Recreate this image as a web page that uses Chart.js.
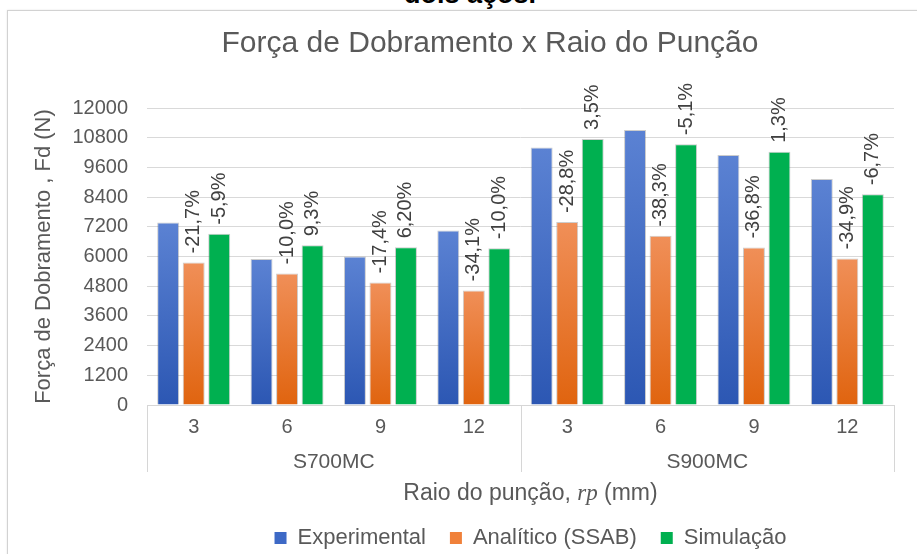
<!DOCTYPE html>
<html lang="pt">
<head>
<meta charset="utf-8">
<title>Força de Dobramento x Raio do Punção</title>
<script src="https://cdn.jsdelivr.net/npm/chart.js@4.4.1/dist/chart.umd.min.js"></script>
<style>
  html, body { margin: 0; padding: 0; background: #fff; width: 917px; height: 554px; overflow: hidden; }
  #caption { position: absolute; left: 0; top: -21px; width: 940px; text-align: center;
             font: bold 27px "Liberation Sans", Arial, sans-serif; color: #000; white-space: nowrap; }
  #frame { position: absolute; left: 7px; top: 10px; width: 2000px; height: 2000px;
           border-left: 1px solid #d2d2d2; border-top: 1px solid #d2d2d2; box-shadow: 0 0 2px rgba(0,0,0,0.10); }
  #wrap { position: absolute; left: 0; top: 0; width: 917px; height: 560px; }
</style>
</head>
<body>
<div id="caption">dois aços.</div>
<div id="frame"></div>
<div id="wrap"><canvas id="chart" width="917" height="560"></canvas></div>
<script>
// Punch radius (mm) for each steel grade
const steels = ["S700MC", "S900MC"];
const radii = ["3", "6", "9", "12"];
const seriesNames = ["Experimental", "Analítico (SSAB)", "Simulação"];

// Bending force Fd (N)
const experimental = [7370, 5900, 6000, 7050, 10400, 11110, 10100, 9130];
const analitico    = [5760, 5310, 4950, 4630, 7390, 6840, 6360, 5920];
const simulacao    = [6920, 6450, 6370, 6330, 10750, 10540, 10230, 8515];

// Deviation from the experimental force
const analiticoPct = ["-21,7%", "-10,0%", "-17,4%", "-34,1%", "-28,8%", "-38,3%", "-36,8%", "-34,9%"];
const simulacaoPct = ["-5,9%", "9,3%", "6,20%", "-10,0%", "3,5%", "-5,1%", "1,3%", "-6,7%"];

// Force axis ticks
const forceTicks = [0, 1200, 2400, 3600, 4800, 6000, 7200, 8400, 9600, 10800, 12000];

const FONT = "'Liberation Sans', Arial, sans-serif";
const GREY = "#595959";
const legendColors = ["#3D69C6", "#F0813A", "#00B050"];

// vertical shading from the top of each bar down to the baseline
function barGradient(topColor, bottomColor) {
  return (ctx) => {
    const chart = ctx.chart;
    const ys = chart.scales && chart.scales.y;
    if (!chart.chartArea || !ys || ctx.raw == null) return bottomColor;
    const y0 = ys.getPixelForValue(ctx.raw);
    const y1 = ys.getPixelForValue(0);
    if (!isFinite(y0) || !isFinite(y1) || y0 === y1) return bottomColor;
    const g = chart.ctx.createLinearGradient(0, y0, 0, y1);
    g.addColorStop(0, topColor);
    g.addColorStop(1, bottomColor);
    return g;
  };
}

const categories = steels.flatMap(() => radii);

// grade separators, grade names, axis title with math symbol, and percentage labels
const annotate = {
  id: "annotate",
  afterLayout(chart) {
    const t = chart.titleBlock;
    if (t) { t.left = 7; t.right = 973; }
    const l = chart.legend;
    if (l) { const c = (chart.chartArea.left + chart.chartArea.right) / 2 + 10; const hw = 450; l.left = c - hw; l.right = c + hw; }
  },
  afterDraw(chart) {
    const { ctx } = chart;
    const x = chart.scales.x;
    const per = radii.length;
    ctx.save();

    // separators below the category axis
    ctx.strokeStyle = "#D6D6D6";
    ctx.lineWidth = 1;
    const bounds = [x.left];
    for (let g = 1; g < steels.length; g++) {
      bounds.push((x.getPixelForTick(g * per - 1) + x.getPixelForTick(g * per)) / 2);
    }
    bounds.push(x.right);
    bounds.forEach((px) => {
      const xx = Math.round(px) + 0.5;
      ctx.beginPath();
      ctx.moveTo(xx, x.top);
      ctx.lineTo(xx, x.top + 67);
      ctx.stroke();
    });

    // steel grade names
    ctx.fillStyle = GREY;
    ctx.font = "21px " + FONT;
    ctx.textAlign = "center";
    ctx.textBaseline = "middle";
    steels.forEach((s, g) => {
      const cx = (x.getPixelForTick(g * per) + x.getPixelForTick(g * per + per - 1)) / 2;
      ctx.fillText(s, cx, x.top + 57);
    });

    // axis title: "Raio do punção, rp (mm)" with rp as a math symbol
    const parts = [
      { t: "Raio do punção, ", f: "23px " + FONT },
      { t: "rp", f: "italic 23px 'Liberation Serif', 'DejaVu Serif', serif" },
      { t: " (mm)", f: "23px " + FONT }
    ];
    let total = 0;
    parts.forEach((p) => { ctx.font = p.f; p.w = ctx.measureText(p.t).width; total += p.w; });
    let px = (x.left + x.right) / 2 + 10 - total / 2;
    ctx.textAlign = "left";
    ctx.textBaseline = "alphabetic";
    parts.forEach((p) => { ctx.font = p.f; ctx.fillText(p.t, px, x.top + 95); px += p.w; });

    // percentage labels above the analytic and simulated bars
    ctx.fillStyle = "#404040";
    ctx.font = "20px " + FONT;
    [[1, analiticoPct], [2, simulacaoPct]].forEach(([di, texts]) => {
      chart.getDatasetMeta(di).data.forEach((bar, i) => {
        ctx.save();
        ctx.translate(bar.x, bar.y - 9);
        ctx.rotate(-Math.PI / 2);
        ctx.textAlign = "left";
        ctx.textBaseline = "middle";
        ctx.fillText(texts[i], 0, 0);
        ctx.restore();
      });
    });
    ctx.restore();
  }
};

Chart.defaults.font.family = FONT;
Chart.defaults.color = GREY;

new Chart(document.getElementById("chart"), {
  type: "bar",
  data: {
    labels: categories,
    datasets: [
      { label: seriesNames[0], data: experimental, backgroundColor: barGradient("#5B82D3", "#2C57B3"),
        borderColor: "rgba(110,110,110,0.35)", borderWidth: 1 },
      { label: seriesNames[1], data: analitico, backgroundColor: barGradient("#F08F58", "#E0640F"),
        borderColor: "rgba(110,110,110,0.35)", borderWidth: 1 },
      { label: seriesNames[2], data: simulacao, backgroundColor: "#00B050",
        borderColor: "rgba(110,110,110,0.35)", borderWidth: 1 }
    ]
  },
  options: {
    responsive: false,
    animation: false,
    devicePixelRatio: 1,
    categoryPercentage: 0.82,
    barPercentage: 0.86,
    layout: { padding: { left: 0, right: 23, top: 0, bottom: 1 } },
    plugins: {
      title: {
        display: true,
        text: "Força de Dobramento x Raio do Punção",
        color: GREY,
        font: { size: 30, weight: "normal" },
        padding: { top: 26, bottom: 46 }
      },
      legend: {
        display: true,
        position: "bottom",
        labels: {
          color: GREY,
          font: { size: 22 },
          boxWidth: 12,
          boxHeight: 12,
          padding: 24,
          generateLabels(chart) {
            const items = Chart.defaults.plugins.legend.labels.generateLabels(chart);
            items.forEach((it, i) => { it.fillStyle = legendColors[i]; it.strokeStyle = legendColors[i]; it.lineWidth = 0; });
            return items;
          }
        }
      },
      tooltip: { enabled: false }
    },
    scales: {
      x: {
        grid: { display: false, drawTicks: false },
        border: { display: true, color: "#D6D6D6" },
        ticks: { color: GREY, font: { size: 20 }, padding: 10, maxRotation: 0, autoSkip: false },
        afterFit(scale) { scale.height = 98; }
      },
      y: {
        min: 0,
        max: 12000,
        grid: { color: "#D9D9D9", lineWidth: 1, drawTicks: false },
        border: { display: false },
        ticks: { color: GREY, font: { size: 20 }, padding: 19, callback: (v) => String(v) },
        afterBuildTicks(scale) { scale.ticks = forceTicks.map((v) => ({ value: v })); },
        title: {
          display: true,
          text: "Força de Dobramento , Fd (N)",
          color: GREY,
          font: { size: 22 },
          padding: { top: 31, bottom: 0 }
        },
        afterFit(scale) { scale.width = 147; }
      }
    }
  },
  plugins: [annotate]
});
</script>
</body>
</html>
